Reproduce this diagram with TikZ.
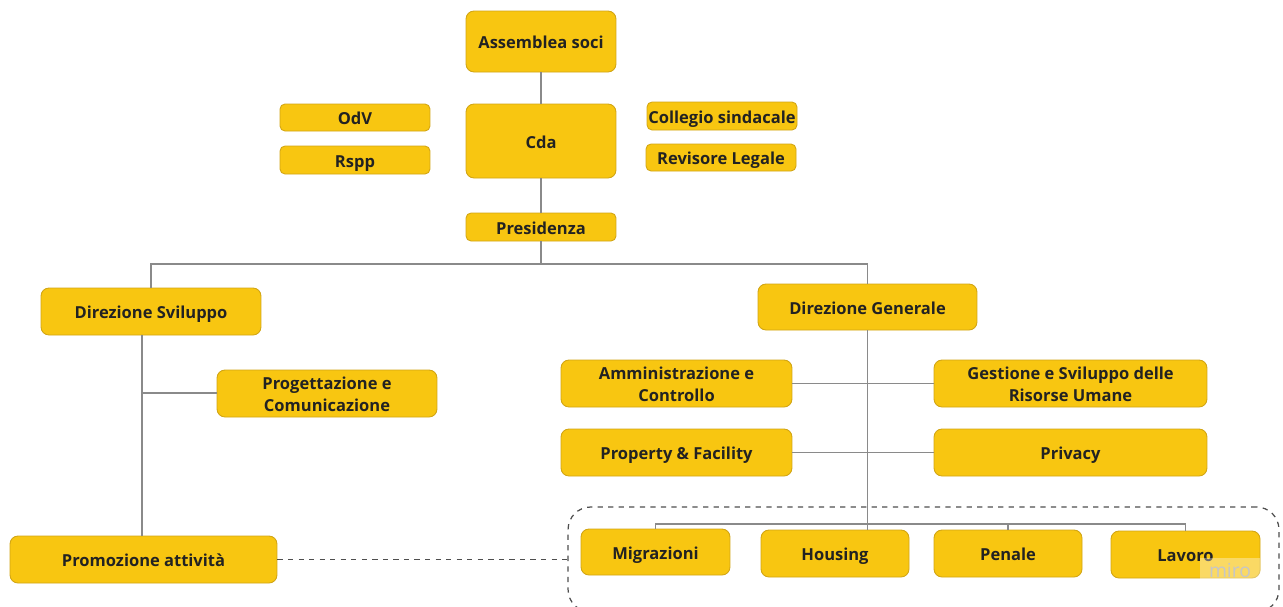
\documentclass[tikz,border=0pt]{standalone}
\usepackage{fontspec}
\setmainfont{Open Sans}
\definecolor{yel}{HTML}{F8C611}
\definecolor{bord}{HTML}{D2A514}
\definecolor{txt}{HTML}{222222}
\definecolor{ln}{HTML}{8A8A8A}
\newcommand\lbl[1]{\raisebox{-1.6pt}[\height][\depth]{\begin{tabular}{@{}c@{}}#1\end{tabular}}}
\tikzset{
  box/.style={draw=bord, line width=0.5pt, fill=yel, rounded corners=0.16cm, inner sep=0pt,
    align=center, text=txt, font=\bfseries\fontsize{9.4}{12.4}\selectfont},
  conn/.style={draw=ln, line width=0.6pt},
  grpbox/.style={draw=txt!80, dashed, line width=0.7pt, rounded corners=0.45cm, inner sep=0pt},
  dconn/.style={draw=txt!80, dashed, line width=0.7pt}
}
\begin{document}
\begin{tikzpicture}[x=0.02cm,y=-0.02cm]
\useasboundingbox (0,0) rectangle (1283,606);
% group box
\node[grpbox, minimum width=14.22cm, minimum height=2.1cm] (grp) at (923.5,559.5) {};
% nodes
\node[box, minimum width=3cm, minimum height=1.22cm] (asm) at (541,41.5) {\lbl{Assemblea soci}};
\node[box, minimum width=3cm, minimum height=1.48cm] (cda) at (541,141) {\lbl{Cda}};
\node[box, minimum width=3cm, minimum height=0.54cm, rounded corners=0.1cm] (odv) at (355,117.5) {\lbl{OdV}};
\node[box, minimum width=3cm, minimum height=0.56cm, rounded corners=0.1cm] (rspp) at (355,160) {\lbl{Rspp}};
\node[box, minimum width=3cm, minimum height=0.56cm, rounded corners=0.1cm] (col) at (722,116) {\lbl{Collegio sindacale}};
\node[box, minimum width=3cm, minimum height=0.54cm, rounded corners=0.1cm] (rev) at (721,157.5) {\lbl{Revisore Legale}};
\node[box, minimum width=3cm, minimum height=0.56cm, rounded corners=0.1cm] (pres) at (541,227) {\lbl{Presidenza}};
\node[box, minimum width=4.4cm, minimum height=0.94cm] (ds) at (151,311.5) {\lbl{Direzione Sviluppo}};
\node[box, minimum width=4.38cm, minimum height=0.92cm] (dg) at (867.5,307) {\lbl{Direzione Generale}};
\node[box, minimum width=4.4cm, minimum height=0.94cm] (prog) at (327,393.5) {\lbl{Progettazione e\\Comunicazione}};
\node[box, minimum width=5.34cm, minimum height=0.94cm] (prom) at (143.5,559.5) {\lbl{Promozione attività}};
\node[box, minimum width=4.62cm, minimum height=0.94cm] (amm) at (676.5,383.5) {\lbl{Amministrazione e\\Controllo}};
\node[box, minimum width=5.46cm, minimum height=0.94cm] (gest) at (1070.5,383.5) {\lbl{Gestione e Sviluppo delle\\Risorse Umane}};
\node[box, minimum width=4.62cm, minimum height=0.94cm] (prop) at (676.5,452.5) {\lbl{Property \& Facility}};
\node[box, minimum width=5.46cm, minimum height=0.94cm] (priv) at (1070.5,452.5) {\lbl{Privacy}};
\node[box, minimum width=2.98cm, minimum height=0.92cm] (mig) at (655.5,552) {\lbl{Migrazioni}};
\node[box, minimum width=2.96cm, minimum height=0.94cm] (hou) at (835,553.5) {\lbl{Housing}};
\node[box, minimum width=2.96cm, minimum height=0.94cm] (pen) at (1008,553.5) {\lbl{Penale}};
\node[box, minimum width=2.98cm, minimum height=0.94cm] (lav) at (1185.5,554.5) {\lbl{Lavoro}};
% connectors
\draw[conn] (asm) -- (cda);
\draw[conn] (cda) -- (pres);
\coordinate (j) at (541,264);
\draw[conn] (pres.south) -- (j);
\draw[conn] (ds.north) |- (j) -| (dg.north);
\coordinate (sj) at (142,393);
\draw[conn] (ds.south -| sj) -- (sj) -- (prog.west |- sj);
\draw[conn] (sj) -- (prom.north -| sj);
\draw[conn] (dg.south) -- (hou.north -| dg.south);
\draw[conn] (amm.east) -- (gest.west);
\draw[conn] (prop.east) -- (priv.west);
\coordinate (bus) at (0,524);
\draw[conn] (mig.north) -- (mig.north |- bus) -- (lav.north |- bus) -- (lav.north);
\draw[conn] (pen.north) -- (pen.north |- bus);
\draw[dconn] (prom.east) -- (prom.east -| grp.west);
% watermark
\node[fill=white, fill opacity=0.35, text opacity=1, text=gray!45, inner sep=3pt,
  font=\fontsize{11}{13}\selectfont, minimum width=1.2cm, minimum height=0.5cm] (miro) at (1230,570) {miro};
\end{tikzpicture}
\end{document}
